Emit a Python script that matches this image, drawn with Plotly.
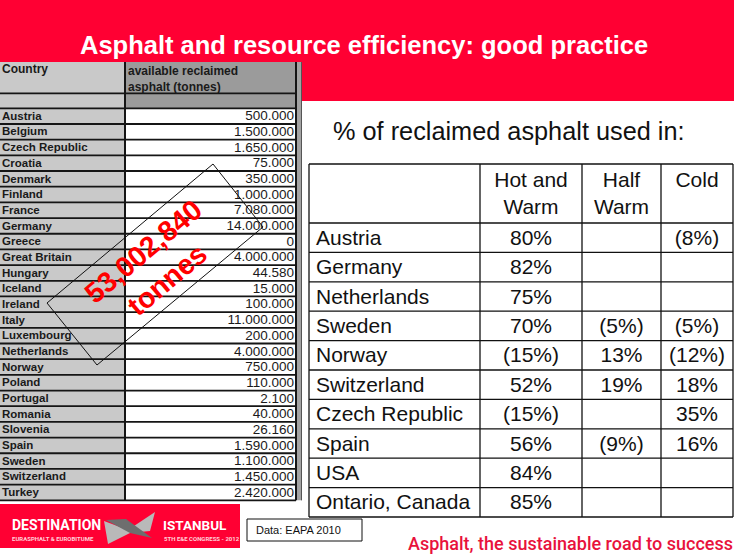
import plotly.graph_objects as go

# ---------------- data ----------------
avail_countries = ["Austria", "Belgium", "Czech Republic", "Croatia", "Denmark", "Finland",
                   "France", "Germany", "Greece", "Great Britain", "Hungary", "Iceland",
                   "Ireland", "Italy", "Luxembourg", "Netherlands", "Norway", "Poland",
                   "Portugal", "Romania", "Slovenia", "Spain", "Sweden", "Switzerland", "Turkey"]
avail_tonnes = [500000, 1500000, 1650000, 75000, 350000, 1000000, 7080000, 14000000, 0,
                4000000, 44580, 15000, 100000, 11000000, 200000, 4000000, 750000, 110000,
                2100, 40000, 26160, 1590000, 1100000, 1450000, 2420000]

use_headers = ["Hot and<br>Warm", "Half<br>Warm", "Cold"]
use_countries = ["Austria", "Germany", "Netherlands", "Sweden", "Norway", "Switzerland",
                 "Czech Republic", "Spain", "USA", "Ontario, Canada"]
hot_warm = ["80%", "82%", "75%", "70%", "(15%)", "52%", "(15%)", "56%", "84%", "85%"]
half_warm = ["", "", "", "(5%)", "13%", "19%", "", "(9%)", "", ""]
cold = ["(8%)", "", "", "(5%)", "(12%)", "18%", "35%", "16%", "", ""]

total_tonnes = sum(avail_tonnes)

# ---------------- layout constants ----------------
W, H = 747, 557
RED = "#ff0033"
ARIAL = "Arial, Liberation Sans, sans-serif"

fig = go.Figure()
shapes = []
annotations = []

def rect(x0, y0, x1, y1, fill=None, line=None, lw=0):
    shapes.append(dict(type="rect", xref="x", yref="y", x0=x0, y0=y0, x1=x1, y1=y1,
                       fillcolor=fill if fill else "rgba(0,0,0,0)",
                       line=dict(color=line if line else "rgba(0,0,0,0)", width=lw),
                       layer="below"))

def hline(x0, x1, y, color="#111", w=1.0, layer="below"):
    shapes.append(dict(type="line", xref="x", yref="y", x0=x0, x1=x1, y0=y, y1=y,
                       line=dict(color=color, width=w), layer=layer))

def vline(x, y0, y1, color="#111", w=1.0, layer="below"):
    shapes.append(dict(type="line", xref="x", yref="y", x0=x, x1=x, y0=y0, y1=y1,
                       line=dict(color=color, width=w), layer=layer))

# red title banner
rect(0, 0, 734, 101, fill=RED)

# ---------------- left table ----------------
LT_TOP, LT_H1, LT_H2 = 62, 93.3, 108.3
LT_ROW = (500.3 - LT_H2) / len(avail_countries)
C1, C2, C3 = 0, 125, 296
LT_BOT = LT_H2 + LT_ROW * len(avail_countries)
rect(C1, LT_TOP, C2, LT_BOT, fill="#c9c9c9")
rect(C2, LT_TOP, C3, LT_H2, fill="#9b9b9b")
rect(C2, LT_H2, C3, LT_BOT, fill="#ffffff")
rect(C3, LT_TOP, 302, LT_BOT, fill="#a3a3a3")
for yy in [LT_H1, LT_H2] + [LT_H2 + LT_ROW * (i + 1) for i in range(len(avail_countries))]:
    hline(C1, C3, yy, color="#151515", w=1.8)
vline(C2, LT_TOP, LT_BOT, color="#151515", w=2)
vline(C3, LT_TOP, LT_BOT, color="#151515", w=2)
vline(301.5, LT_TOP, LT_BOT, color="#555", w=1)

row_y = [LT_H2 + LT_ROW * (i + 0.5) + 0.8 for i in range(len(avail_countries))]
fig.add_trace(go.Scatter(x=[2] * len(avail_countries), y=row_y, text=avail_countries,
                         mode="text", textposition="middle right", hoverinfo="skip",
                         textfont=dict(family="Liberation Sans", size=11.5, color="#1a1a1a", weight="bold"),
                         showlegend=False))
fig.add_trace(go.Scatter(x=[294] * len(avail_countries), y=row_y,
                         text=[f"{v:,}".replace(",", ".") for v in avail_tonnes],
                         mode="text", textposition="middle left", hoverinfo="skip",
                         textfont=dict(family="Liberation Sans", size=13.5, color="#1a1a1a"),
                         showlegend=False))
fig.add_trace(go.Scatter(x=[2, 128], y=[70, 66],
                         text=["Country", "available reclaimed<br>asphalt (tonnes)"],
                         mode="text", textposition=["middle right", "bottom right"], hoverinfo="skip",
                         textfont=dict(family="Liberation Sans", size=12, color="#1a1a1a", weight="bold"),
                         showlegend=False))

# rotated total box
TX, TY = [213, 263, 97, 47], [164, 227, 365, 303]
shapes.append(dict(type="path", xref="x", yref="y",
                   path="M {} {} L {} {} L {} {} L {} {} Z".format(TX[0], TY[0], TX[1], TY[1],
                                                                   TX[2], TY[2], TX[3], TY[3]),
                   line=dict(color="#111", width=1), layer="above"))
annotations.append(dict(x=sum(TX) / 4, y=sum(TY) / 4 + 1, xref="x", yref="y", showarrow=False,
                        text=f"{total_tonnes:,}<br>tonnes", textangle=-40,
                        font=dict(family=ARIAL, size=28.5, color="#ff0000", weight="bold"),
                        xanchor="center", yanchor="middle", align="center"))

# title
annotations.append(dict(x=364, y=45, xref="x", yref="y", showarrow=False,
                        text="Asphalt and resource efficiency: good practice",
                        font=dict(family=ARIAL, size=25.5, color="white", weight="bold"),
                        xanchor="center", yanchor="middle"))

# subtitle
annotations.append(dict(x=331, y=131, xref="x", yref="y", showarrow=False,
                        text="% of reclaimed asphalt used in:",
                        font=dict(family=ARIAL, size=25.3, color="#111"),
                        xanchor="left", yanchor="middle"))

# ---------------- right table ----------------
RT_L, RT_TOP, RT_HB = 309, 164, 223
RT_ROW = (517 - RT_HB) / len(use_countries)
RT_COLS = [309, 480, 582, 661, 733]
RT_BOT = RT_HB + RT_ROW * len(use_countries)
for yy in [RT_TOP, RT_HB] + [RT_HB + RT_ROW * (i + 1) for i in range(len(use_countries))]:
    hline(RT_COLS[0], RT_COLS[-1], yy, color="#111", w=1.3)
for xx in RT_COLS:
    vline(xx, RT_TOP, RT_BOT, color="#111", w=1.3)

col_centers = [(RT_COLS[i] + RT_COLS[i + 1]) / 2 for i in range(1, 4)]
ry = [RT_HB + RT_ROW * (i + 0.5) + 1.8 for i in range(len(use_countries))]
rfont = dict(family=ARIAL, size=21, color="#111")
fig.add_trace(go.Scatter(x=[316] * len(use_countries), y=ry, text=use_countries, mode="text",
                         textposition="middle right", textfont=rfont, hoverinfo="skip", showlegend=False))
for cx, vals in zip(col_centers, [hot_warm, half_warm, cold]):
    fig.add_trace(go.Scatter(x=[cx] * len(vals), y=ry, text=vals, mode="text",
                             textposition="middle center", textfont=rfont, hoverinfo="skip",
                             showlegend=False))
fig.add_trace(go.Scatter(x=col_centers, y=[195.5, 195.5, 181.5], text=use_headers, mode="text",
                         textposition="middle center", textfont=rfont, hoverinfo="skip",
                         showlegend=False))

# ---------------- footer ----------------
rect(0, 504, 240, 548, fill=RED)
shapes.append(dict(type="path", xref="x", yref="y",
                   path="M 104 521 L 128 530 L 155 512 L 150 531 L 130 533 L 108 544 Z",
                   fillcolor="#b9b9b9", line=dict(width=0), layer="above"))
shapes.append(dict(type="path", xref="x", yref="y",
                   path="M 106 520 L 126 519 L 152 538 L 130 533 Z",
                   fillcolor="#6e6e6e", line=dict(width=0), layer="above"))
annotations += [
    dict(x=10, y=525, text="DESTINATION", xanchor="left",
         font=dict(family="Roboto", size=14, color="white", weight="bold")),
    dict(x=161, y=525, text="ISTANBUL", xanchor="left",
         font=dict(family="Roboto", size=13.5, color="white", weight="bold")),
    dict(x=10, y=538, text="EURASPHALT &amp; EUROBITUME", xanchor="left",
         font=dict(family="Roboto", size=6, color="#ffd0d8", weight="bold")),
    dict(x=162, y=538, text="5TH E&amp;E CONGRESS - 2012", xanchor="left",
         font=dict(family="Roboto", size=6, color="#ffd0d8", weight="bold")),
]
for a in annotations[-4:]:
    a.update(xref="x", yref="y", showarrow=False, yanchor="middle")

rect(247, 519, 362, 541, line="#111", lw=1)
annotations.append(dict(x=254, y=530, xref="x", yref="y", showarrow=False, text="Data: EAPA 2010",
                        font=dict(family=ARIAL, size=11, color="#111"), xanchor="left", yanchor="middle"))
annotations.append(dict(x=735, y=543, xref="x", yref="y", showarrow=False,
                        text="Asphalt, the sustainable road to success",
                        font=dict(family="Roboto", size=18, color="#e8123c", weight=500),
                        xanchor="right", yanchor="middle"))

fig.update_layout(
    width=W, height=H, margin=dict(l=0, r=0, t=0, b=0),
    paper_bgcolor="white", plot_bgcolor="white",
    xaxis=dict(range=[0, W], visible=False, fixedrange=True),
    yaxis=dict(range=[H, 0], visible=False, fixedrange=True),
    shapes=shapes, annotations=annotations, showlegend=False,
)
fig.write_html("out.html", config={"displayModeBar": False},
               post_script="document.body.style.margin='0';document.body.style.overflow='hidden';")
